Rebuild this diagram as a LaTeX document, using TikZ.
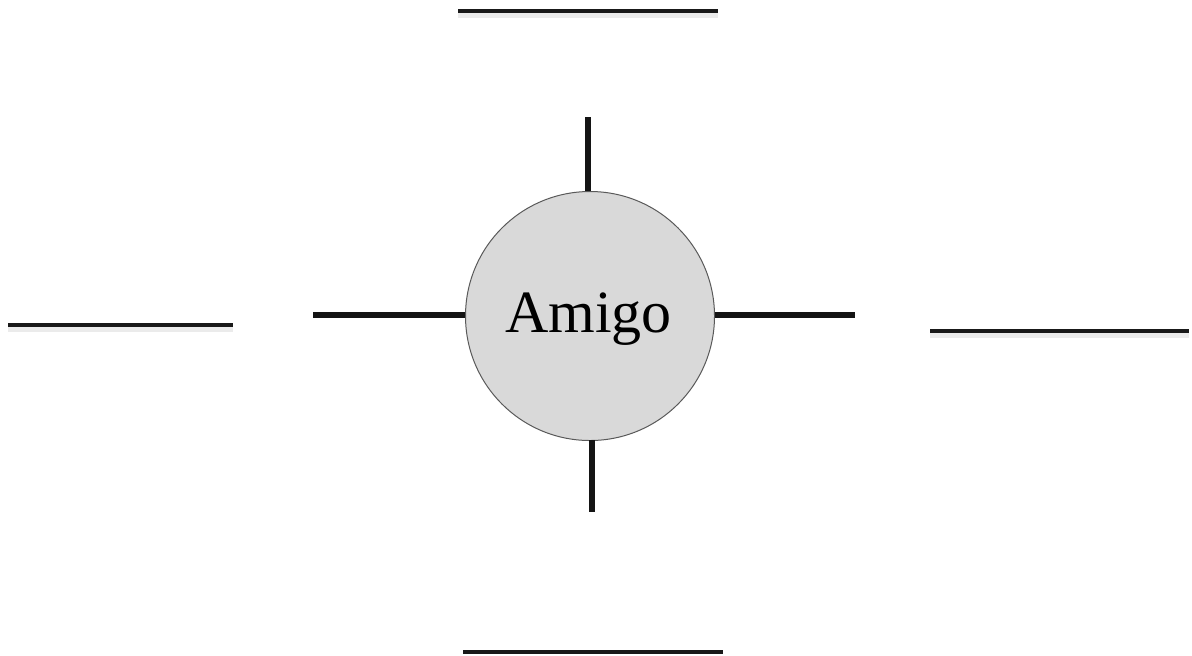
\documentclass[tikz,border=0pt]{standalone}
\usepackage{fontspec}
\setmainfont{Liberation Serif}
\begin{document}
\begin{tikzpicture}[x=0.5pt,y=-0.5pt,
  spoke/.style={line width=2.6pt,draw=black!92},
  blank/.style={line width=1.8pt,draw=black!90},
  blankshadow/.style={line width=2.5pt,draw=black!8},
  hub/.style={circle,draw=black!65,line width=0.5pt,fill=black!15,minimum size=249*0.5pt,inner sep=0pt}]
\useasboundingbox (0,0) rectangle (1192,655);
\node[hub] (c) at (590,316) {};
\node[anchor=base,font=\fontsize{30}{36}\selectfont] (t) at (588.5,332) {Amigo};
% spokes
\coordinate (st) at (588,117);
\coordinate (sb) at (592,512);
\coordinate (sl) at (313,315);
\coordinate (sr) at (855,315);
\draw[spoke] (st) -- (588,191);
\draw[spoke] (592,440) -- (sb);
\draw[spoke] (sl) -- (c.west |- sl);
\draw[spoke] (c.east |- sr) -- (sr);
% blank lines
\coordinate (t1) at (458,11);  \coordinate (t2) at (718,11);
\coordinate (l1) at (8,325);   \coordinate (l2) at (233,325);
\coordinate (r1) at (930,331); \coordinate (r2) at (1189,331);
\coordinate (b1) at (463,652); \coordinate (b2) at (723,652);
\foreach \a/\b in {t1/t2,l1/l2,r1/r2}{
  \draw[blankshadow] ([yshift=-2pt]\a) -- ([yshift=-2pt]\b);
}
\draw[blank] (t1) -- (t2);
\draw[blank] (l1) -- (l2);
\draw[blank] (r1) -- (r2);
\draw[blank] (b1) -- (b2);
\end{tikzpicture}
\end{document}
